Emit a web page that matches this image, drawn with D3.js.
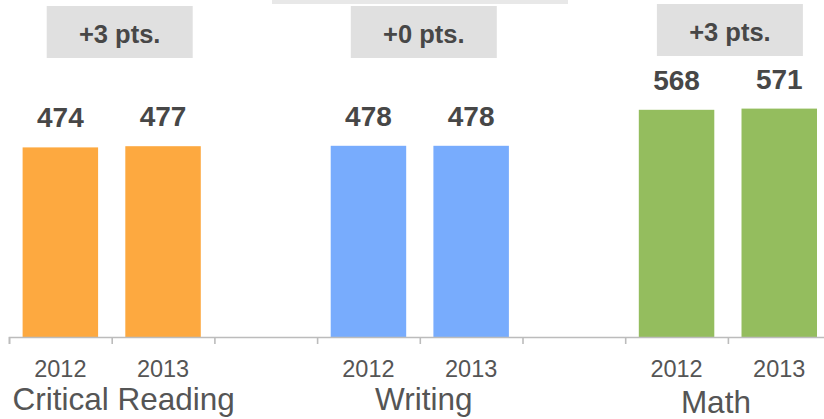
<!DOCTYPE html>
<html>
<head>
<meta charset="utf-8">
<script src="https://cdn.jsdelivr.net/npm/d3@7"></script>
<style>
  body { margin: 0; background: #fff; }
  svg { display: block; font-family: "Liberation Sans", Arial, sans-serif; }
</style>
</head>
<body>
<svg id="chart"></svg>
<script>
// data
const categories = ["Critical Reading", "Writing", "Math"];
const years = ["2012", "2013"];
const scores2012 = [474, 478, 568];
const scores2013 = [477, 478, 571];
const barColors = ["#fda940", "#78acfd", "#94bd5e"];

const width = 824;
const height = 419;

// small layout nudges for the labels (px), not data
const boxNudge = [8, 4, 2];
const catNudge = [12, 4, -12];

const svg = d3.select("#chart").attr("width", width).attr("height", height);

// one slot per bar, with an empty slot between groups
const slots = [];
categories.forEach((c, i) => {
    years.forEach(y => slots.push(c + "|" + y));
    if (i < categories.length - 1) slots.push("gap" + i);
});

const x = d3.scaleBand().domain(slots).range([9, 830.6]).padding(0);
const xIdx = d3.scaleLinear().domain([0, slots.length]).range(x.range());
const y = d3.scaleLinear().domain([0, 800]).range([337, 17]);

const bars = [];
categories.forEach((c, i) => {
    bars.push({ cat: c, i, year: years[0], value: scores2012[i] });
    bars.push({ cat: c, i, year: years[1], value: scores2013[i] });
});

const barW = x.bandwidth() * 0.735;
const cx = d => x(d.cat + "|" + d.year) + x.bandwidth() / 2;
const groupCenter = c => (x(c + "|" + years[0]) + x(c + "|" + years[1]) + x.bandwidth()) / 2;

// title box cut off at the top
svg.append("rect")
    .attr("x", 272).attr("y", -50)
    .attr("width", 296).attr("height", 54)
    .attr("fill", "#e8e8e8");

// bars
svg.append("g")
    .selectAll("rect")
    .data(bars)
    .join("rect")
    .attr("x", d => cx(d) - barW / 2)
    .attr("y", d => y(d.value))
    .attr("width", barW)
    .attr("height", d => y(0) - y(d.value))
    .attr("fill", d => barColors[d.i]);

// value labels
svg.append("g")
    .selectAll("text")
    .data(bars)
    .join("text")
    .attr("x", d => cx(d))
    .attr("y", d => y(d.value) - 20)
    .attr("text-anchor", "middle")
    .attr("font-size", 28)
    .attr("font-weight", "bold")
    .attr("fill", "#474747")
    .text(d => d.value);

// axis
const axis = svg.append("g")
    .attr("transform", `translate(0,${y(0)})`)
    .call(d3.axisBottom(xIdx).tickValues(d3.range(slots.length + 1)).tickFormat("").tickSizeOuter(0).tickSize(7));
axis.selectAll("path, line").attr("stroke", "#bcbcbc").attr("stroke-width", 1.6);

// year labels
svg.append("g")
    .selectAll("text")
    .data(bars)
    .join("text")
    .attr("x", d => cx(d))
    .attr("y", 376.5)
    .attr("text-anchor", "middle")
    .attr("font-size", 23.5)
    .attr("fill", "#555")
    .text(d => d.year);

// category labels
svg.append("g")
    .selectAll("text")
    .data(categories)
    .join("text")
    .attr("x", (c, i) => groupCenter(c) + catNudge[i])
    .attr("y", (c, i) => i === 2 ? 413 : 410)
    .attr("text-anchor", "middle")
    .attr("font-size", 31.5)
    .attr("fill", "#555")
    .text(c => c);

// change boxes
const delta = categories.map((c, i) => ({ c, i, d: scores2013[i] - scores2012[i] }));
const boxes = svg.append("g")
    .selectAll("g")
    .data(delta)
    .join("g")
    .attr("transform", d => `translate(${groupCenter(d.c) + boxNudge[d.i]},${d.i === 2 ? 4 : 6})`);

boxes.append("rect")
    .attr("x", -73).attr("y", 0)
    .attr("width", 146).attr("height", 52)
    .attr("fill", "#e0e0e0");

boxes.append("text")
    .attr("x", 0).attr("y", 37)
    .attr("text-anchor", "middle")
    .attr("font-size", 25.5)
    .attr("font-weight", "bold")
    .attr("fill", "#474747")
    .text(d => (d.d >= 0 ? "+" : "") + d.d + " pts.");
</script>
</body>
</html>
